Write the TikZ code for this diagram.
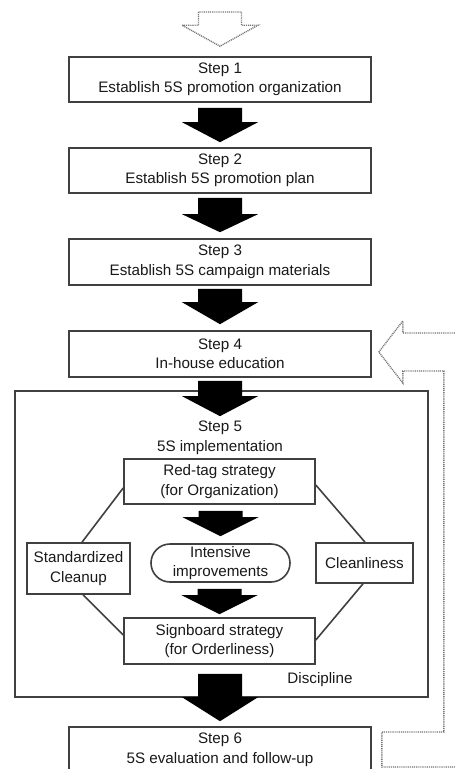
\documentclass[tikz,border=0pt]{standalone}
\usepackage{fontspec}
\setmainfont{Liberation Sans}
\usetikzlibrary{calc}
\tikzset{
 box/.style={draw=black!75, line width=1.6pt, fill=white, align=center, inner sep=0pt, font=\fontsize{15.2}{19.5}\selectfont, text=black!90},
 lbl/.style={align=center, inner sep=0pt, font=\fontsize{15.2}{19.5}\selectfont, text=black!90},
 link/.style={draw=black!75, line width=1.6pt},
 hollow/.style={draw=black!55, line width=1.4pt, dash pattern=on 1pt off 0.9pt, fill=white},
}
\newcommand\blockarrow[3]{%
 \fill[black] let \p1=#1, \p2=#2 in (\x2-22pt,\y1) -- (\x2+22pt,\y1) -- (\x2+22pt,\y2+#3) -- (\x2+38pt,\y2+#3) -- (\x2,\y2) -- (\x2-38pt,\y2+#3) -- (\x2-22pt,\y2+#3) -- cycle;}
\begin{document}
\begin{tikzpicture}[x=1pt,y=-1pt]
\useasboundingbox (0,0) rectangle (455,769);
% big step 5 frame
\node[draw=black!75, line width=1.6pt, minimum width=413pt, minimum height=306pt, inner sep=0pt] (s5box) at (221.5,544) {};
% steps
\node[box, minimum width=302pt, minimum height=45pt] (s1) at (220,79.5) {Step 1\\Establish 5S promotion organization};
\node[box, minimum width=302pt, minimum height=45pt] (s2) at (220,170.5) {Step 2\\Establish 5S promotion plan};
\node[box, minimum width=302pt, minimum height=46pt] (s3) at (220,262) {Step 3\\Establish 5S campaign materials};
\node[box, minimum width=302pt, minimum height=46pt] (s4) at (220,354) {Step 4\\In-house education};
\node[lbl] (s5lbl) at (220,438) {Step 5\\5S implementation};
\node[box, minimum width=191pt, minimum height=45pt] (red) at (219.5,481.5) {Red-tag strategy\\(for Organization)};
\node[box, minimum width=103pt, minimum height=51pt] (std) at (78.5,568.5) {Standardized\\Cleanup};
\node[box, minimum width=139pt, minimum height=38pt, rounded corners=19pt] (int) at (220.5,563) {Intensive\\improvements};
\node[box, minimum width=97pt, minimum height=40pt] (cln) at (364.5,563) {Cleanliness};
\node[box, minimum width=191pt, minimum height=46pt] (sign) at (219.5,641) {Signboard strategy\\(for Orderliness)};
\node[lbl] (disc) at (320,680) {Discipline};
\node[box, minimum width=302pt, minimum height=46pt] (s6) at (220,750) {Step 6\\5S evaluation and follow-up};
% links around the cycle
\draw[link] ($(red.west)+(0,6.5)$) -- ($(std.north)+(3.5,0)$);
\draw[link] ($(red.east)+(0,3.5)$) -- ($(cln.north)+(0.5,0)$);
\draw[link] ($(std.south)+(4.5,0)$) -- ($(sign.west)+(0,-6)$);
\draw[link] ($(cln.south)+(-1.5,0)$) -- ($(sign.east)+(0,-1)$);
% block arrows
\blockarrow{($(s1.south)+(0,5)$)}{($(s2.north)+(0,-5)$)}{20pt}
\blockarrow{($(s2.south)+(0,4)$)}{($(s3.north)+(0,-6)$)}{18pt}
\blockarrow{($(s3.south)+(0,3)$)}{($(s4.north)+(0,-6)$)}{22pt}
\blockarrow{($(s4.south)+(0,3)$)}{($(s5lbl.north)+(0,-5)$)}{20pt}
\blockarrow{($(red.south)+(0,6)$)}{($(int.north)+(0,-7)$)}{19pt}
\blockarrow{($(int.south)+(0,6)$)}{($(sign.north)+(0,-3)$)}{19pt}
\blockarrow{($(sign.south)+(0,9)$)}{($(s6.north)+(0,-5)$)}{24pt}
% incoming hollow arrow
\coordinate (topin) at (220,12);
\draw[hollow] let \p1=(topin), \p2=($(s1.north)+(0,-10)$) in
  (\x2-21.5pt,\y1) -- (\x2+21.5pt,\y1) -- (\x2+21.5pt,\y2+21pt) -- (\x2+38pt,\y2+21pt) -- (\x2,\y2) -- (\x2-38pt,\y2+21pt) -- (\x2-21.5pt,\y2+21pt) -- cycle;
% feedback hollow arrow
\coordinate (fbtip) at ($(s4.east)+(7,-2)$);
\coordinate (fbtail) at ($(s6.east)+(10,0)$);
\draw[hollow] let \p1=(fbtip), \p2=(fbtail) in
  (\p1) -- (\x1+24pt,\y1+31pt) -- (\x1+24pt,\y1+19pt) -- (\x1+100pt,\y1+19pt)
  -- (\x1+100pt,\y2-17pt) -- (\x2,\y2-17pt) -- (\x2,\y2+18pt) -- (\x1+65pt,\y2+18pt)
  -- (\x1+65pt,\y1-19pt) -- (\x1+24pt,\y1-19pt) -- (\x1+24pt,\y1-31pt) -- cycle;
\end{tikzpicture}
\end{document}
